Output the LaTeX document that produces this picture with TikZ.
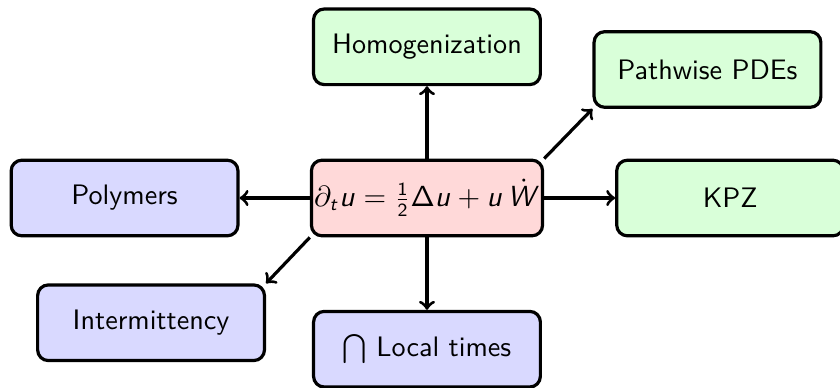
\documentclass[tikz,border=0pt]{standalone}
\usepackage{amsmath}
\renewcommand{\familydefault}{\sfdefault}
\DeclareSymbolFont{sfop}{OT1}{cmss}{m}{n}
\DeclareMathSymbol{\sfDelta}{\mathalpha}{sfop}{"01}
\DeclareMathAlphabet{\mathsfit}{OT1}{cmss}{m}{sl}
\begin{document}
\begin{tikzpicture}[
  box/.style={draw, very thick, rounded corners=4pt, minimum width=3cm, minimum height=1cm, inner xsep=1pt, inner ysep=2pt, font=\sffamily\fontsize{10.6}{12.5}\selectfont},
  gbox/.style={box, fill=green!15},
  bbox/.style={box, fill=blue!15},
  rbox/.style={box, fill=red!15},
  conn/.style={->, very thick}
]
\useasboundingbox (-5.648,-2.5) rectangle (5.463,2.619);
\node[rbox] (c) at (0,0) {$\partial_{\mathsfit{t}} \mathsfit{u} = \frac{\mathsf{1}}{\mathsf{2}}\sfDelta \mathsfit{u} + \mathsfit{u}\,\dot{\mathsfit{W}}$};
\node[gbox] (h) at (0,2.0) {Homogenization};
\node[gbox] (p) at (3.71,1.70) {Pathwise PDEs};
\node[gbox] (k) at (4.01,0) {KPZ};
\node[bbox] (po) at (-4.0,0) {Polymers};
\node[bbox] (i) at (-3.65,-1.65) {Intermittency};
\node[bbox] (l) at (0,-2.0) {$\bigcap$ Local times};
\draw[conn] (c.north) -- (h.south);
\draw[conn] (c.north east) -- (p.south west);
\draw[conn] (c.east) -- (k.west);
\draw[conn] (c.west) -- (po.east);
\draw[conn] (c.south west) -- (i.north east);
\draw[conn] (c.south) -- (l.north);
\end{tikzpicture}
\end{document}
